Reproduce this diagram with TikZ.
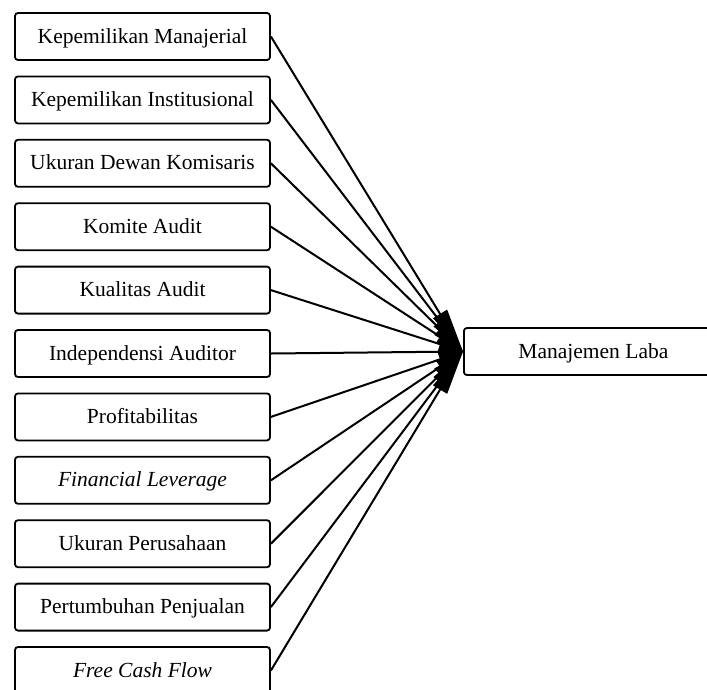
\documentclass[tikz,border=0pt]{standalone}
\usepackage{fontspec}
\setmainfont{Liberation Serif}
\usetikzlibrary{arrows.meta}
\begin{document}
\begin{tikzpicture}[x=1pt,y=-1pt,
  varbox/.style={draw, line width=1.8pt, rounded corners=3pt, minimum width=255pt, minimum height=47pt, inner sep=0pt, text height=16pt, text depth=3pt, font=\fontsize{21.5}{25}\selectfont, anchor=center},
  conn/.style={line width=2pt}]
\useasboundingbox (0,0) rectangle (707,689);
\clip (0,0) rectangle (707,689);
\node[varbox] (b1) at (142.5,36.5) {Kepemilikan Manajerial};
\node[varbox] (b2) at (142.5,99.9) {Kepemilikan Institusional};
\node[varbox] (b3) at (142.5,163.3) {Ukuran Dewan Komisaris};
\node[varbox] (b4) at (142.5,226.7) {Komite Audit};
\node[varbox] (b5) at (142.5,290.1) {Kualitas Audit};
\node[varbox] (b6) at (142.5,353.5) {Independensi Auditor};
\node[varbox] (b7) at (142.5,416.9) {Profitabilitas};
\node[varbox] (b8) at (142.5,480.3) {\itshape Financial Leverage};
\node[varbox] (b9) at (142.5,543.7) {Ukuran Perusahaan};
\node[varbox] (b10) at (142.5,607.1) {Pertumbuhan Penjualan};
\node[varbox] (b11) at (142.5,670.5) {\itshape Free Cash Flow};
\node[varbox, minimum width=270pt, anchor=west] (y) at (463,351.5) {\hspace*{-11pt}Manajemen Laba};
\foreach \i in {1,...,11} {
  \pgfmathsetmacro\cy{36.5+63.4*(\i-1)}
  \pgfmathsetmacro\L{23*veclen(193,351.5-\cy)/193}
  \draw[conn, -{Triangle[length=\L pt,width=16pt]}] (b\i.east) -- (y.west);
}
\end{tikzpicture}
\end{document}
